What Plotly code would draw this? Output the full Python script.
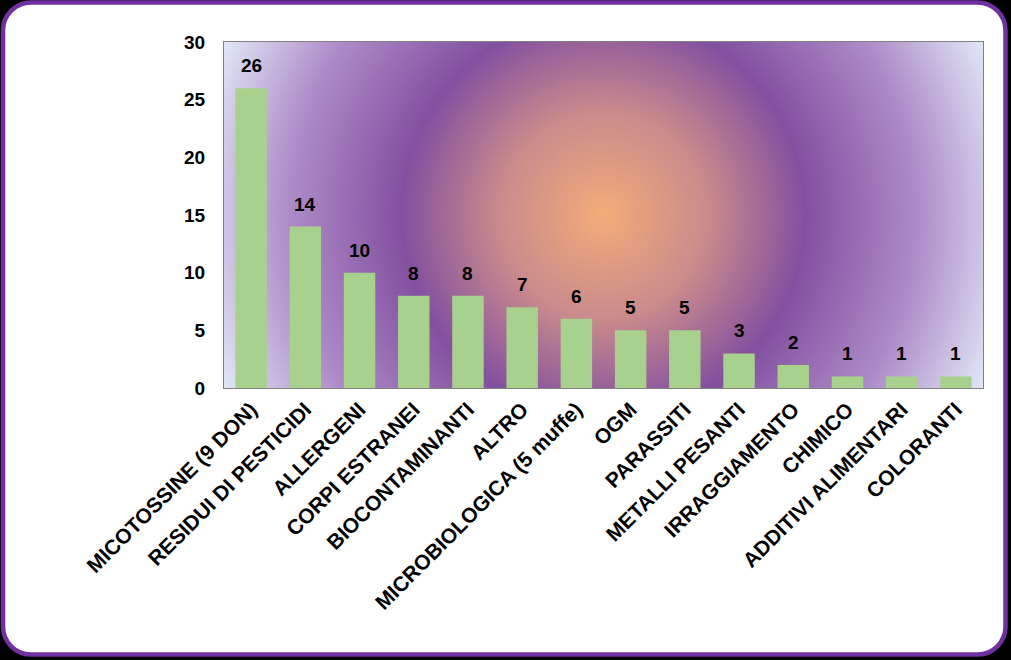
import base64
import plotly.graph_objects as go

categories = ["MICOTOSSINE (9 DON)", "RESIDUI DI PESTICIDI", "ALLERGENI", "CORPI ESTRANEI",
              "BIOCONTAMINANTI", "ALTRO", "MICROBIOLOGICA (5 muffe)", "OGM", "PARASSITI",
              "METALLI PESANTI", "IRRAGGIAMENTO", "CHIMICO", "ADDITIVI ALIMENTARI", "COLORANTI"]
values = [26, 14, 10, 8, 8, 7, 6, 5, 5, 3, 2, 1, 1, 1]
y_ticks = [0, 5, 10, 15, 20, 25, 30]

W, H = 1011, 660
ML, MR, MT, MB = 224, 28, 42, 272
PW, PH = W - ML - MR, H - MT - MB

FONT = "Liberation Sans, Arial, sans-serif"

frame_svg = f'''<svg xmlns="http://www.w3.org/2000/svg" width="{W}" height="{H}" viewBox="0 0 {W} {H}" preserveAspectRatio="none">
<rect x="0" y="0" width="{W}" height="{H}" fill="#000000"/>
<rect x="3" y="2.5" width="1002.5" height="652" rx="28" ry="28" fill="#ffffff" stroke="#7030A0" stroke-width="4.5"/>
</svg>'''

grad_svg = f'''<svg xmlns="http://www.w3.org/2000/svg" width="{PW}" height="{PH}" viewBox="0 0 {PW} {PH}" preserveAspectRatio="none">
<defs><radialGradient id="g" gradientUnits="userSpaceOnUse" cx="{PW/2}" cy="{PH/2}" r="420">
<stop offset="0" stop-color="#F2AC78"/>
<stop offset="0.25" stop-color="#C98A8C"/>
<stop offset="0.48" stop-color="#8350A0"/>
<stop offset="0.75" stop-color="#AE8CC8"/>
<stop offset="1" stop-color="#E2EAF8"/>
</radialGradient></defs>
<rect x="0" y="0" width="{PW}" height="{PH}" fill="url(#g)"/>
</svg>'''


def uri(s):
    return "data:image/svg+xml;base64," + base64.b64encode(s.encode()).decode()


fig = go.Figure()
fig.add_trace(go.Bar(x=categories, y=values, marker=dict(color="#A9D18E", line=dict(width=0)),
                     hoverinfo="skip"))

for c, v in zip(categories, values):
    fig.add_annotation(x=c, y=v, text=str(v), showarrow=False, yanchor="bottom", yshift=10,
                       font=dict(family=FONT, size=19, color="#000000"))

fig.update_layout(
    width=W, height=H,
    margin=dict(l=ML, r=MR, t=MT, b=MB, pad=0),
    paper_bgcolor="#000000",
    plot_bgcolor="rgba(0,0,0,0)",
    bargap=0.42,
    showlegend=False,
    font=dict(family=FONT, size=19, color="#000000"),
    images=[
        dict(source=uri(frame_svg), xref="paper", yref="paper",
             x=-ML / PW, y=1 + MT / PH, sizex=W / PW, sizey=H / PH,
             sizing="stretch", xanchor="left", yanchor="top", layer="below"),
        dict(source=uri(grad_svg), xref="paper", yref="paper",
             x=0, y=1, sizex=1, sizey=1,
             sizing="stretch", xanchor="left", yanchor="top", layer="below"),
    ],
)
fig.update_xaxes(tickangle=-45, showline=True, linecolor="#808080", linewidth=1, mirror=True,
                 ticks="", showgrid=False,
                 tickfont=dict(family=FONT, size=21, color="#000000", weight="bold"))
fig.update_yaxes(range=[0, 30], tickvals=y_ticks, showline=True, linecolor="#808080", linewidth=1,
                 mirror=True, ticks="", showgrid=False, zeroline=False, ticklabelstandoff=14,
                 tickfont=dict(family=FONT, size=19, color="#000000", weight="bold"))
fig.update_annotations(font_weight="bold")

fig.write_html("out.html")
